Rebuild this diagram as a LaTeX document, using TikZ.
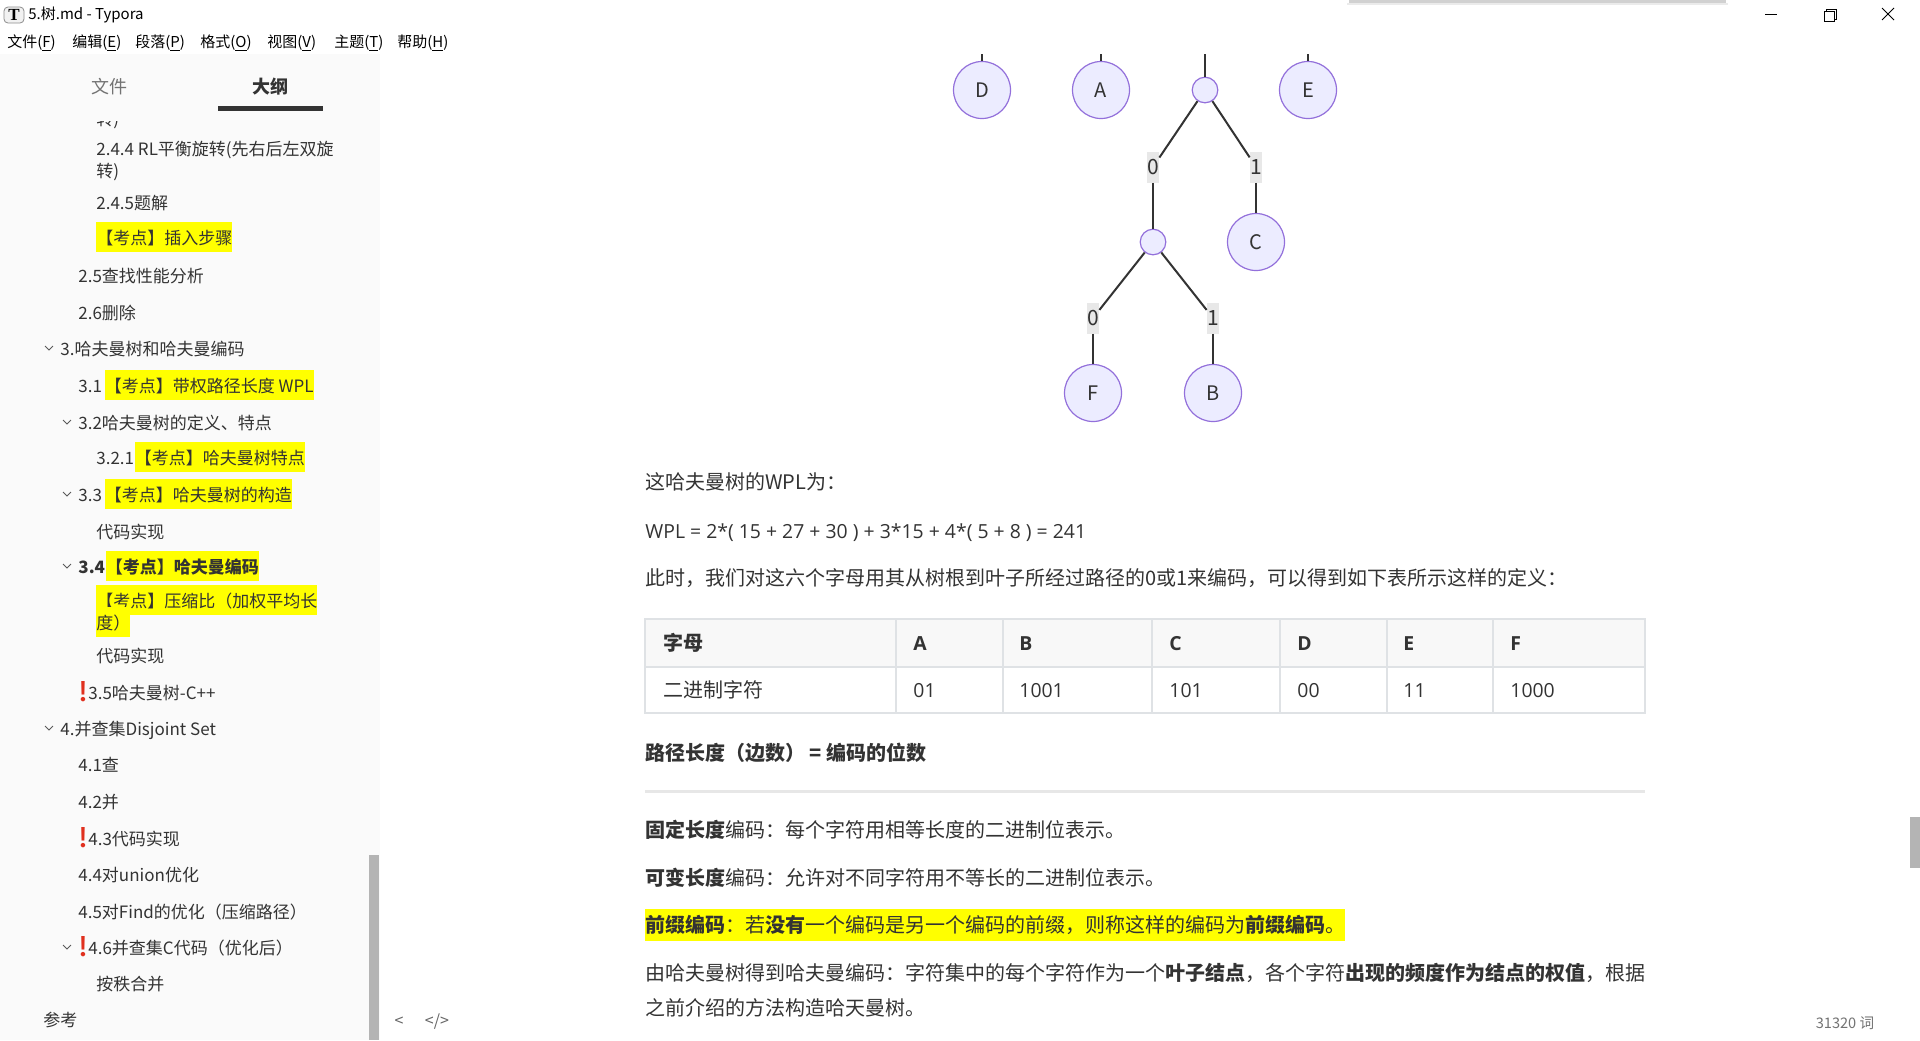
\documentclass[tikz,border=0pt]{standalone}
\usepackage{fontspec}
\setmainfont{Noto Sans CJK SC}
\newfontfamily\latinfont{Open Sans}
\newfontfamily\emojifont{Noto Emoji}
\newfontfamily\iconserif{Liberation Serif}
\usetikzlibrary{positioning}

\definecolor{textdark}{HTML}{333333}
\definecolor{sidebg}{HTML}{FAFAFA}
\definecolor{nodefill}{HTML}{ECECFF}
\definecolor{nodeline}{HTML}{9370DB}
\definecolor{bitbg}{HTML}{E8E8E8}
\definecolor{edgegray}{HTML}{333333}
\definecolor{tableline}{HTML}{DFE2E5}
\definecolor{tablehead}{HTML}{F8F8F8}
\definecolor{rulegray}{HTML}{E7E7E7}
\definecolor{hlyellow}{HTML}{FFFF00}
\definecolor{scrollgray}{HTML}{B4B4B4}
\definecolor{bangred}{HTML}{E0301E}

\newcommand{\redmark}{\textcolor{bangred}{\emojifont ❗}}
\newcommand{\chev}[2]{\draw[chevron] (#1-4,#2-2) -- (#1,#2+2) -- (#1+4,#2-2);}

\tikzset{
    side/.style={anchor=west, inner sep=0pt, text=textdark,
        font=\fontsize{8.5}{10}\selectfont, text height=0.85em, text depth=0.15em},
    sidehl/.style={side, fill=hlyellow, inner ysep=2.5pt},
    menu/.style={anchor=west, inner sep=0pt, text=black,
        font=\fontsize{7.5}{9}\selectfont},
    body/.style={anchor=west, inner sep=0pt, text=textdark,
        font=\fontsize{10}{12}\selectfont, text height=0.85em, text depth=0.15em},
    cell/.style={body, font=\latinfont\fontsize{9.7}{12}\selectfont},
    headcell/.style={body, font=\latinfont\bfseries\fontsize{9.7}{12}\selectfont},
    leaf/.style={circle, draw=nodeline, fill=nodefill, line width=0.6pt,
        minimum size=28.5pt, inner sep=0pt, text=textdark,
        font=\fontsize{10}{12}\selectfont},
    joint/.style={circle, draw=nodeline, fill=nodefill, line width=0.6pt,
        minimum size=12.8pt, inner sep=0pt},
    bit/.style={fill=bitbg, inner sep=0pt, minimum width=6pt,
        minimum height=15.5pt, text=textdark, font=\fontsize{10.5}{12}\selectfont},
    edge/.style={draw=edgegray, line width=1pt},
    chevron/.style={draw=black!65, line width=0.5pt},
    wincontrol/.style={draw=black, line width=0.5pt}
}

\begin{document}
\begin{tikzpicture}[x=0.5pt, y=-0.5pt]
    \useasboundingbox (0,0) rectangle (1920,1040);
    \fill[white] (0,0) rectangle (1920,1040);

    %Window
    \fill[sidebg] (0,54) rectangle (380,1040);
    \fill[black!18] (1349,0) rectangle (1726,3);
    \fill[black!8] (1347,3) rectangle (1728,5);
    \draw[fill=black!5, draw=black!45, rounded corners=2pt, line width=0.4pt] (4,7) rectangle (24,23);
    \node[inner sep=0pt, font=\iconserif\bfseries\fontsize{8.5}{9}\selectfont] (icon) at (14,15) {T};
    \node[menu] (title) at (28,15) {5.树.md - Typora};
    \draw[wincontrol] (1765,14) -- (1777,14);
    \draw[wincontrol] (1824,11) rectangle (1834,21);
    \draw[wincontrol] (1826,11) -- (1826,9) -- (1836,9) -- (1836,19) -- (1834,19);
    \draw[wincontrol] (1882,8) -- (1894,20);
    \draw[wincontrol] (1882,20) -- (1894,8);

    %Menu
    \node[menu] (mfile) at (7,43)   {文件(\underline{F})};
    \node[menu] (medit) at (72,43)  {编辑(\underline{E})};
    \node[menu] (mpara) at (135,43) {段落(\underline{P})};
    \node[menu] (mform) at (200,43) {格式(\underline{O})};
    \node[menu] (mview) at (267,43) {视图(\underline{V})};
    \node[menu] (mtheme) at (334,43) {主题(\underline{T})};
    \node[menu] (mhelp) at (397,43) {帮助(\underline{H})};

    %Sidebar tabs
    \node[text=black!55, font=\fontsize{9}{10}\selectfont, inner sep=0pt] (tfiles) at (109,87) {文件};
    \node[text=textdark, font=\bfseries\fontsize{9}{10}\selectfont, inner sep=0pt] (toutline) at (270,87) {大纲};
    \fill[textdark] (218,106) rectangle (323,111);

    %Outline
    \begin{scope}
        \clip (0,121) rectangle (380,140);
        \node[side] (s243) at (96,118) {转)};
    \end{scope}
    \node[side] (s244)  at (96,148) {2.4.4 RL平衡旋转(先右后左双旋};
    \node[side] (s244b) at (96,170) {转)};
    \node[side] (s245)  at (96,202) {2.4.5题解};
    \node[sidehl] (s24k) at (96,237) {【考点】插入步骤};
    \node[side] (s25)   at (78,275) {2.5查找性能分析};
    \node[side] (s26)   at (78,312) {2.6删除};
    \node[side] (s3)    at (60,348) {3.哈夫曼树和哈夫曼编码};
    \node[side] (s31)   at (78,385) {3.1};
    \node[sidehl, right=1pt of s31] (s31k) {【考点】带权路径长度 WPL};
    \node[side] (s32)   at (78,422) {3.2哈夫曼树的定义、特点};
    \node[side] (s321)  at (96,457) {3.2.1};
    \node[sidehl, right=0pt of s321] (s321k) {【考点】哈夫曼树特点};
    \node[side] (s33)   at (78,494) {3.3};
    \node[sidehl, right=1pt of s33] (s33k) {【考点】哈夫曼树的构造};
    \node[side] (s33c)  at (96,531) {代码实现};
    \node[side, font=\bfseries\fontsize{8.5}{10}\selectfont] (s34) at (78,566) {3.4};
    \node[sidehl, font=\bfseries\fontsize{8.5}{10}\selectfont, right=0pt of s34] (s34k) {【考点】哈夫曼编码};
    \node[sidehl] (s34r)  at (96,600) {【考点】压缩比（加权平均长};
    \node[sidehl] (s34rb) at (96,622) {度）};
    \node[side] (s34c)  at (96,655) {代码实现};
    \node[inner sep=0pt, font=\fontsize{10}{10}\selectfont] (b35) at (83,692) {\redmark};
    \node[side] (s35)   at (88,692) {3.5哈夫曼树-C++};
    \node[side] (s4)    at (60,728) {4.并查集Disjoint Set};
    \node[side] (s41)   at (78,764) {4.1查};
    \node[side] (s42)   at (78,801) {4.2并};
    \node[inner sep=0pt, font=\fontsize{10}{10}\selectfont] (b43) at (83,838) {\redmark};
    \node[side] (s43)   at (88,838) {4.3代码实现};
    \node[side] (s44)   at (78,874) {4.4对union优化};
    \node[side] (s45)   at (78,911) {4.5对Find的优化（压缩路径）};
    \node[inner sep=0pt, font=\fontsize{10}{10}\selectfont] (b46) at (83,947) {\redmark};
    \node[side] (s46)   at (88,947) {4.6并查集C代码（优化后）};
    \node[side] (s46a)  at (96,983) {按秩合并};
    \node[side] (sref)  at (43,1019) {参考};
    \chev{49}{348}
    \chev{67}{422}
    \chev{67}{494}
    \chev{67}{566}
    \chev{49}{728}
    \chev{67}{947}
    \fill[scrollgray] (369,855) rectangle (379,1040);

    %Tree nodes
    \node[leaf]  (D)  at (982,90)   {D};
    \node[leaf]  (A)  at (1101,90)  {A};
    \node[joint] (r)  at (1205,90)  {};
    \node[leaf]  (E)  at (1308,90)  {E};
    \node[bit]   (l0) at (1153,167) {0};
    \node[bit]   (l1) at (1256,167) {1};
    \node[joint] (n2) at (1153,242) {};
    \node[leaf]  (C)  at (1256,242) {C};
    \node[bit]   (l00) at (1093,318) {0};
    \node[bit]   (l01) at (1213,318) {1};
    \node[leaf]  (F)  at (1093,393) {F};
    \node[leaf]  (B)  at (1213,393) {B};
    \coordinate (Dtop) at (982,54);
    \coordinate (Atop) at (1101,54);
    \coordinate (rtop) at (1205,54);
    \coordinate (Etop) at (1308,54);

    %Tree lines
    \draw[edge] (Dtop) -- (D);
    \draw[edge] (Atop) -- (A);
    \draw[edge] (rtop) -- (r);
    \draw[edge] (Etop) -- (E);
    \draw[edge] (r) -- (l0);
    \draw[edge] (l0) -- (n2);
    \draw[edge] (r) -- (l1);
    \draw[edge] (l1) -- (C);
    \draw[edge] (n2) -- (l00);
    \draw[edge] (l00) -- (F);
    \draw[edge] (n2) -- (l01);
    \draw[edge] (l01) -- (B);

    %Text
    \node[body] (wpl)  at (645,482) {这哈夫曼树的WPL为：};
    \node[body, font=\latinfont\fontsize{9.7}{12}\selectfont] (wplf) at (645,531) {WPL = 2*( 15 + 27 + 30 ) + 3*15 + 4*( 5 + 8 ) = 241};
    \node[body] (now)  at (645,578) {此时，我们对这六个字母用其从树根到叶子所经过路径的0或1来编码，可以得到如下表所示这样的定义：};

    %Table
    \fill[tablehead] (645,619) rectangle (1645,667);
    \draw[tableline, line width=0.6pt] (645,619) rectangle (1645,713);
    \draw[tableline, line width=0.6pt] (645,667) -- (1645,667);
    \foreach \cx in {896,1003,1152,1280,1387,1493}
        \draw[tableline, line width=0.6pt] (\cx,619) -- (\cx,713);
    \node[body, font=\bfseries\fontsize{10}{12}\selectfont] (hletter) at (663,643) {字母};
    \node[headcell] (hA) at (913,643)  {A};
    \node[headcell] (hB) at (1019,643) {B};
    \node[headcell] (hC) at (1169,643) {C};
    \node[headcell] (hD) at (1297,643) {D};
    \node[headcell] (hE) at (1403,643) {E};
    \node[headcell] (hF) at (1510,643) {F};
    \node[body] (cbin) at (663,690)  {二进制字符};
    \node[cell] (cA) at (913,690)  {01};
    \node[cell] (cB) at (1019,690) {1001};
    \node[cell] (cC) at (1169,690) {101};
    \node[cell] (cD) at (1297,690) {00};
    \node[cell] (cE) at (1403,690) {11};
    \node[cell] (cF) at (1510,690) {1000};

    %More text
    \node[body, font=\bfseries\fontsize{10}{12}\selectfont] (plen) at (645,753) {路径长度（边数） = 编码的位数};
    \fill[rulegray] (645,790) rectangle (1645,793);
    \node[body] (fixed) at (645,830) {\textbf{固定长度}编码：每个字符用相等长度的二进制位表示。};
    \node[body] (vari)  at (645,878) {\textbf{可变长度}编码：允许对不同字符用不等长的二进制位表示。};
    \node[body, fill=hlyellow, inner ysep=3pt] (prefix) at (645,925)
        {\textbf{前缀编码}：若\textbf{没有}一个编码是另一个编码的前缀，则称这样的编码为\textbf{前缀编码}。};
    \node[body] (huff)  at (645,973) {由哈夫曼树得到哈夫曼编码：字符集中的每个字符作为一个\textbf{叶子结点}，各个字符\textbf{出现的频度作为结点的权值}，根据};
    \node[body] (huffb) at (645,1008) {之前介绍的方法构造哈天曼树。};

    %Status bar
    \node[text=black!60, font=\fontsize{8}{9}\selectfont, inner sep=0pt] (back) at (399,1022) {<};
    \node[text=black!60, font=\fontsize{8}{9}\selectfont, inner sep=0pt] (src) at (437,1022) {</>};
    \node[text=black!55, font=\fontsize{7.3}{9}\selectfont, inner sep=0pt] (count) at (1845,1023) {31320 词};
    \fill[scrollgray] (1910,817) rectangle (1920,868);
\end{tikzpicture}
\end{document}
